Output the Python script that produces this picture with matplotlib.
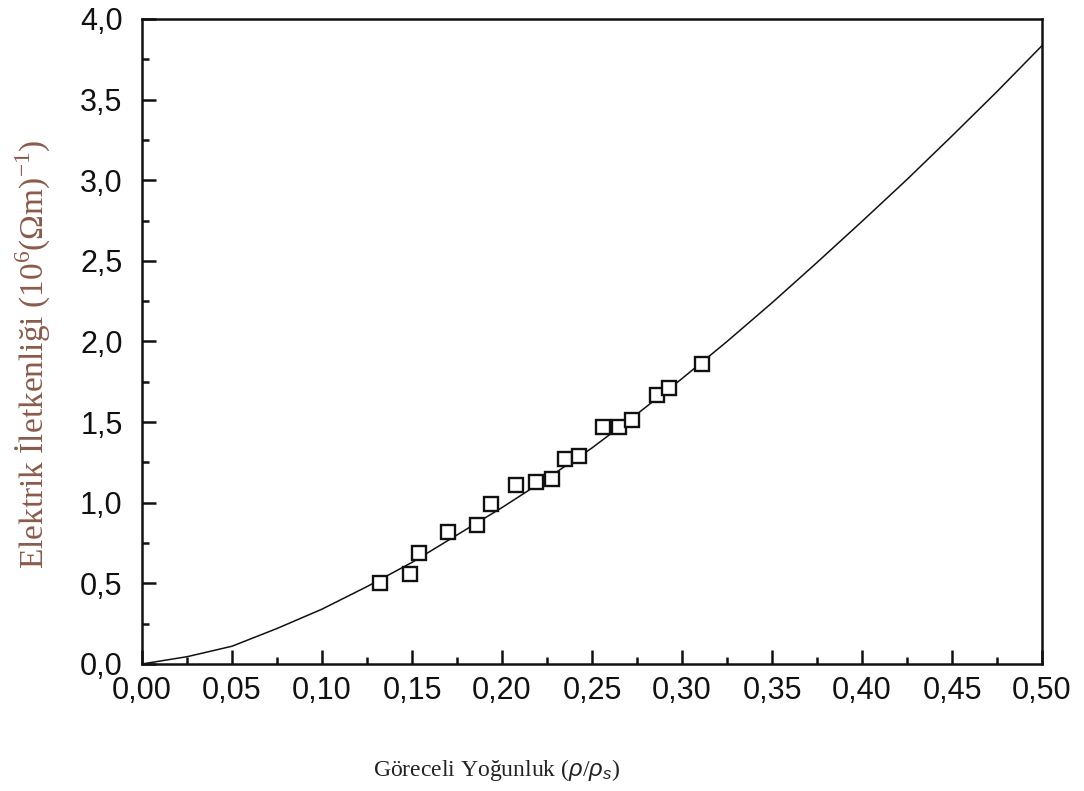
import matplotlib
matplotlib.use("Agg")
import matplotlib.pyplot as plt
from matplotlib.ticker import FixedLocator, FixedFormatter, MultipleLocator

# measured samples (relative density vs. conductivity, 10^6 (Ohm m)^-1)
RHO_MEAS = [0.132, 0.149, 0.154, 0.170, 0.186, 0.194, 0.208, 0.219, 0.228,
            0.235, 0.243, 0.256, 0.265, 0.272, 0.286, 0.293, 0.311]
SIGMA_MEAS = [0.50, 0.56, 0.69, 0.82, 0.86, 0.99, 1.11, 1.13, 1.15,
              1.27, 1.29, 1.47, 1.47, 1.51, 1.67, 1.71, 1.86]

# model curve
RHO_FIT = [0.000, 0.025, 0.050, 0.075, 0.100, 0.125, 0.150, 0.175, 0.200,
           0.225, 0.250, 0.275, 0.300, 0.325, 0.350, 0.375, 0.400, 0.425,
           0.450, 0.475, 0.500]
SIGMA_FIT = [0.00, 0.045, 0.11, 0.22, 0.34, 0.48, 0.63, 0.80, 0.97,
             1.15, 1.34, 1.55, 1.77, 2.00, 2.24, 2.49, 2.745, 3.005,
             3.275, 3.55, 3.835]

X_TICKS = [0.00, 0.05, 0.10, 0.15, 0.20, 0.25, 0.30, 0.35, 0.40, 0.45, 0.50]
X_LABELS = ["0,00", "0,05", "0,10", "0,15", "0,20", "0,25", "0,30",
            "0,35", "0,40", "0,45", "0,50"]
Y_TICKS = [0.0, 0.5, 1.0, 1.5, 2.0, 2.5, 3.0, 3.5, 4.0]
Y_LABELS = ["0,0", "0,5", "1,0", "1,5", "2,0", "2,5", "3,0", "3,5", "4,0"]

plt.rcParams["font.family"] = "Liberation Sans"
plt.rcParams["mathtext.fontset"] = "custom"
plt.rcParams["mathtext.rm"] = "Liberation Serif"
plt.rcParams["mathtext.it"] = "Liberation Sans:italic"

fig = plt.figure(figsize=(10.84, 7.91), dpi=100)
ax = fig.add_axes([0.131, 0.1606, 0.8303, 0.8154])

ax.plot(RHO_FIT, SIGMA_FIT, color="#111111", lw=1.1, zorder=2)
ax.plot(RHO_MEAS, SIGMA_MEAS, "s", ms=10.5, mfc="white", mec="#111111",
        mew=1.7, zorder=3)

ax.set_xlim(0, 0.5)
ax.set_ylim(0, 4.0)
ax.xaxis.set_major_locator(FixedLocator(X_TICKS))
ax.xaxis.set_major_formatter(FixedFormatter(X_LABELS))
ax.yaxis.set_major_locator(FixedLocator(Y_TICKS))
ax.yaxis.set_major_formatter(FixedFormatter(Y_LABELS))
ax.xaxis.set_minor_locator(MultipleLocator(0.025))
ax.yaxis.set_minor_locator(MultipleLocator(0.25))

ax.tick_params(which="both", direction="in", top=False, right=False,
               width=1.8, color="#111111", labelsize=22, labelcolor="#111111")
ax.tick_params(which="major", length=10)
ax.tick_params(which="minor", length=5)
ax.tick_params(axis="x", pad=9)
ax.tick_params(axis="y", pad=14)
for sp in ax.spines.values():
    sp.set_linewidth(1.8)
    sp.set_color("#111111")

fig.text(0.458, 0.026, "Göreceli Yoğunluk ($ρ/ρ_s$)", ha="center",
         va="center", fontsize=17, family="Liberation Serif", color="#222222")
fig.text(0.030, 0.552, "Elektrik İletkenliği (10$^6$(Ωm)$^{-1}$)",
         ha="center", va="center", rotation=90, fontsize=24,
         family="Liberation Serif", color="#8B5A4A")

fig.savefig("out.png", dpi=100)
